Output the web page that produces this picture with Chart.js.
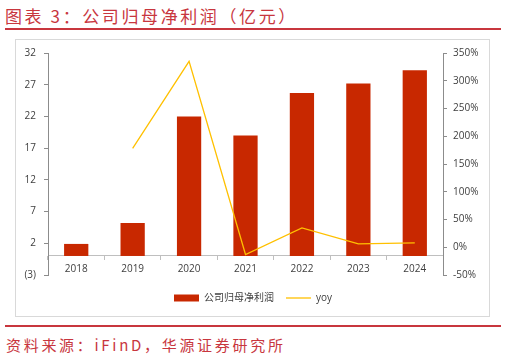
<!DOCTYPE html>
<html>
<head>
<meta charset="utf-8">
<script src="https://cdn.jsdelivr.net/npm/chart.js@4"></script>
<style>
  html, body { margin:0; padding:0; background:#fff; }
  body { width:506px; height:360px; position:relative; overflow:hidden; }
  #title { position:absolute; left:5px; top:4px; font-family:"Noto Sans CJK SC"; font-size:17px; letter-spacing:2.6px; color:#C8363E; white-space:nowrap; line-height:24px; }
  #tline { position:absolute; left:5px; top:28px; width:496px; height:2px; background:#C8363E; }
  #box { position:absolute; left:15px; top:39px; width:473px; height:276px; border:1px solid #d9d9d9; }
  #fline { position:absolute; left:5px; top:325px; width:496px; height:2px; background:#C8363E; }
  #foot { position:absolute; left:6px; top:335px; font-family:"Noto Sans CJK SC"; font-size:15px; letter-spacing:2.7px; color:#C8363E; white-space:nowrap; line-height:20px; }
  #wrap { position:absolute; left:0; top:0; width:506px; height:360px; }
</style>
</head>
<body>
<div id="title">图表 3：公司归母净利润（亿元）</div>
<div id="tline"></div>
<div id="box"></div>
<div id="fline"></div>
<div id="foot">资料来源：iFinD，华源证券研究所</div>
<div id="wrap"><canvas id="c" width="506" height="360"></canvas></div>
<script>
const categories = ['2018', '2019', '2020', '2021', '2022', '2023', '2024'];
const profitValues = [1.9, 5.2, 22.0, 19.0, 25.7, 27.2, 29.3];
const yoyValues = [null, 178, 335, -13, 35, 6, 8];
const leftTicks = [-3, 2, 7, 12, 17, 22, 27, 32];
const rightTicks = [-50, 0, 50, 100, 150, 200, 250, 300, 350];
const seriesNames = ['公司归母净利润', 'yoy'];

const FONT = { family: '"Open Sans", "Noto Sans CJK SC", sans-serif', size: 10 };
const TXT = '#404040';

new Chart(document.getElementById('c'), {
  data: {
    labels: categories,
    datasets: [
      { type: 'line', label: seriesNames[1], data: yoyValues, yAxisID: 'y1',
        borderColor: '#FFC000', backgroundColor: '#FFC000', borderWidth: 1.3,
        pointRadius: 0, tension: 0, spanGaps: false, order: 0, pointStyle: 'line' },
      { type: 'bar', label: seriesNames[0], data: profitValues, yAxisID: 'y',
        backgroundColor: '#C82800', borderWidth: 0, barPercentage: 0.43, categoryPercentage: 1, order: 1, pointStyle: 'rect' }
    ]
  },
  options: {
    responsive: false,
    animation: false,
    devicePixelRatio: 1,
    layout: { padding: { left: 0, right: 0, top: 53, bottom: 47 } },
    plugins: {
      tooltip: { enabled: false },
      legend: {
        position: 'bottom',
        reverse: true,
        title: { display: true, text: '', font: { size: 6, lineHeight: 1 }, padding: 0 },
        labels: {
          usePointStyle: true, pointStyleWidth: 25, boxHeight: 7,
          font: FONT, color: TXT, padding: 12
        }
      }
    },
    scales: {
      x: {
        position: { y: 0 },
        offset: true,
        grid: { display: true, drawOnChartArea: false, drawTicks: true, tickLength: 4, color: '#bfbfbf', offset: true },
        border: { display: true, color: '#bfbfbf', width: 1 },
        ticks: { font: FONT, color: TXT, padding: 3, maxRotation: 0 }
      },
      y: {
        position: 'left',
        min: -3, max: 32,
        afterBuildTicks: s => { s.ticks = leftTicks.map(v => ({ value: v })); },
        afterFit: s => { s.width = 48; },
        grid: { drawOnChartArea: false, drawTicks: true, tickLength: 4, color: '#8c8c8c' },
        border: { display: true, color: '#8c8c8c', width: 1 },
        ticks: { font: FONT, color: TXT, padding: 8, callback: v => v < 0 ? '(' + (-v) + ')' : String(v) }
      },
      y1: {
        position: 'right',
        min: -50, max: 350,
        afterBuildTicks: s => { s.ticks = rightTicks.map(v => ({ value: v })); },
        afterFit: s => { s.width = 63; },
        grid: { drawOnChartArea: false, drawTicks: true, tickLength: 4, color: '#8c8c8c' },
        border: { display: true, color: '#8c8c8c', width: 1 },
        ticks: { font: FONT, color: TXT, padding: 6, callback: v => v + '%' }
      }
    }
  }
});
</script>
</body>
</html>
